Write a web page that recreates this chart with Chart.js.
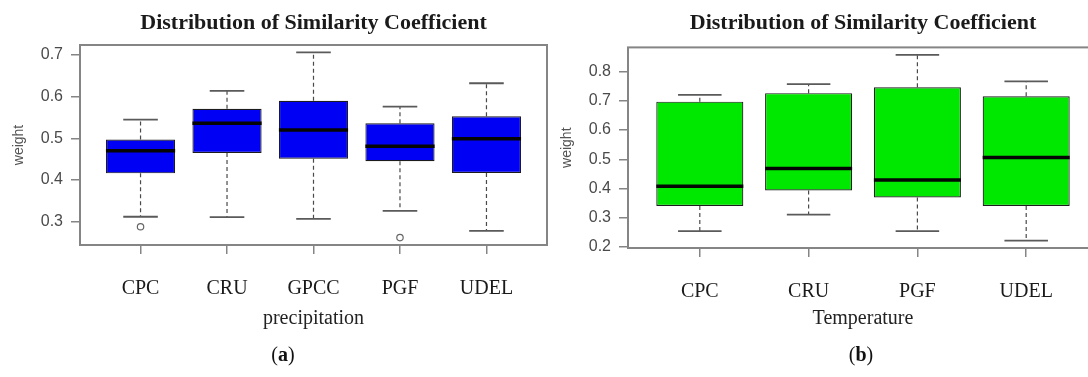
<!DOCTYPE html>
<html>
<head>
<meta charset="utf-8">
<title>Distribution of Similarity Coefficient</title>
<script src="https://cdn.jsdelivr.net/npm/chart.js@4.4.1/dist/chart.umd.min.js"></script>
<style>
  html, body { margin: 0; padding: 0; background: #fff; overflow: hidden; }
  body { width: 1088px; height: 377px; position: relative; }
  .panel { position: absolute; top: 0; width: 560px; height: 377px; }
  .panel canvas { display: block; }
  .caption {
    position: absolute;
    top: 343px;
    font: 20px 'Liberation Serif', serif;
    color: #111;
    transform: translateX(-50%);
  }
</style>
</head>
<body>
<div class="panel" style="left:0"><canvas id="precip" width="560" height="377"></canvas></div>
<div class="panel" style="left:548px"><canvas id="temp" width="560" height="377"></canvas></div>
<div class="caption" style="left:283px">(<b>a</b>)</div>
<div class="caption" style="left:861px">(<b>b</b>)</div>
<script>
// precipitation products
const precipSources = ['CPC', 'CRU', 'GPCC', 'PGF', 'UDEL'];
const precipLow = [0.312, 0.311, 0.307, 0.326, 0.278];
const precipQ1 = [0.416, 0.465, 0.451, 0.445, 0.417];
const precipMedian = [0.470, 0.536, 0.520, 0.481, 0.499];
const precipQ3 = [0.497, 0.571, 0.590, 0.536, 0.553];
const precipHigh = [0.545, 0.614, 0.706, 0.576, 0.632];
const precipOutliers = [[0.288], [], [], [0.262], []];
const precipTicks = [0.3, 0.4, 0.5, 0.6, 0.7];

// temperature products
const tempSources = ['CPC', 'CRU', 'PGF', 'UDEL'];
const tempLow = [0.254, 0.311, 0.254, 0.222];
const tempQ1 = [0.340, 0.393, 0.369, 0.340];
const tempMedian = [0.408, 0.468, 0.429, 0.506];
const tempQ3 = [0.697, 0.726, 0.746, 0.715];
const tempHigh = [0.720, 0.757, 0.857, 0.766];
const tempOutliers = [[], [], [], []];
const tempTicks = [0.2, 0.3, 0.4, 0.5, 0.6, 0.7, 0.8];

const FRAME_COLOR = '#858585';

// whiskers, staples, medians and the plot frame, drawn like base R boxplots
function boxWhiskers(stats) {
  return {
    id: 'boxWhiskers',
    beforeDatasetsDraw(chart) {
      const { ctx } = chart;
      const y = chart.scales.y;
      const bars = chart.getDatasetMeta(0).data;
      ctx.save();
      bars.forEach((bar, i) => {
        const staple = bar.width / 4;
        const yLow = y.getPixelForValue(stats.low[i]);
        const yHigh = y.getPixelForValue(stats.high[i]);
        const yQ1 = y.getPixelForValue(stats.q1[i]);
        const yQ3 = y.getPixelForValue(stats.q3[i]);

        ctx.strokeStyle = '#4a4a4a';
        ctx.lineWidth = 1.2;
        ctx.setLineDash([4, 3]);
        ctx.beginPath();
        ctx.moveTo(bar.x, yQ3);
        ctx.lineTo(bar.x, yHigh);
        ctx.moveTo(bar.x, yQ1);
        ctx.lineTo(bar.x, yLow);
        ctx.stroke();

        ctx.setLineDash([]);
        ctx.strokeStyle = '#5a5a5a';
        ctx.lineWidth = 1.8;
        ctx.beginPath();
        ctx.moveTo(bar.x - staple, yHigh);
        ctx.lineTo(bar.x + staple, yHigh);
        ctx.moveTo(bar.x - staple, yLow);
        ctx.lineTo(bar.x + staple, yLow);
        ctx.stroke();
      });
      ctx.restore();
    },
    afterDatasetsDraw(chart) {
      const { ctx } = chart;
      const y = chart.scales.y;
      const bars = chart.getDatasetMeta(0).data;
      ctx.save();
      ctx.strokeStyle = '#050505';
      ctx.lineWidth = 3.5;
      bars.forEach((bar, i) => {
        const yMed = y.getPixelForValue(stats.median[i]);
        ctx.beginPath();
        ctx.moveTo(bar.x - bar.width / 2, yMed);
        ctx.lineTo(bar.x + bar.width / 2, yMed);
        ctx.stroke();
      });
      ctx.restore();
    },
    afterDraw(chart) {
      const { ctx, chartArea: a } = chart;
      ctx.save();
      ctx.strokeStyle = FRAME_COLOR;
      ctx.lineWidth = 2;
      ctx.strokeRect(a.left, a.top, a.right - a.left, a.bottom - a.top);
      ctx.restore();
    },
  };
}

function makeBoxChart(canvasId, cfg) {
  const n = cfg.sources.length;
  const values = [...cfg.low, ...cfg.high, ...cfg.outliers.flat()];
  const lo = Math.min(...values);
  const hi = Math.max(...values);
  const pad = (hi - lo) * 0.04;

  const boxes = cfg.sources.map((_, i) => ({ x: i + 1, y: [cfg.q1[i], cfg.q3[i]] }));
  const outlierPoints = cfg.outliers.flatMap((list, i) => list.map((v) => ({ x: i + 1, y: v })));

  return new Chart(document.getElementById(canvasId), {
    type: 'bar',
    data: {
      datasets: [
        {
          data: boxes,
          backgroundColor: cfg.fill,
          borderColor: '#1c1c1c',
          borderWidth: 1.2,
          borderSkipped: false,
          barPercentage: 0.8,
          categoryPercentage: 1,
        },
        {
          type: 'scatter',
          data: outlierPoints,
          pointStyle: 'circle',
          pointRadius: 3.2,
          backgroundColor: 'rgba(0,0,0,0)',
          borderColor: '#666',
          borderWidth: 1.2,
        },
      ],
    },
    options: {
      responsive: false,
      animation: false,
      events: [],
      layout: { padding: cfg.padding },
      plugins: {
        legend: { display: false },
        tooltip: { enabled: false },
        title: {
          display: true,
          text: 'Distribution of Similarity Coefficient',
          fullSize: false,
          color: '#1a1a1a',
          font: { family: 'Liberation Serif', size: 22, weight: 'bold', lineHeight: 1.2 },
          padding: cfg.titlePadding,
        },
      },
      scales: {
        x: {
          type: 'linear',
          offset: false,
          min: 0.5 - 0.04 * n,
          max: n + 0.5 + 0.04 * n,
          afterBuildTicks: (scale) => {
            scale.ticks = cfg.sources.map((_, i) => ({ value: i + 1 }));
          },
          afterFit: (scale) => {
            scale.height = 90;
          },
          ticks: {
            autoSkip: false,
            maxRotation: 0,
            padding: 23,
            color: '#1a1a1a',
            font: { family: 'Liberation Serif', size: 20 },
            callback: (value, index) => cfg.sources[index],
          },
          grid: { offset: false, drawOnChartArea: false, tickLength: 9, color: FRAME_COLOR, lineWidth: 1.5 },
          border: { display: false },
          title: {
            display: true,
            text: cfg.xTitle,
            color: '#222',
            font: { family: 'Liberation Serif', size: 20, lineHeight: 1.2 },
            padding: { top: 0, bottom: cfg.xTitleGap },
          },
        },
        y: {
          min: lo - pad,
          max: hi + pad,
          afterBuildTicks: (scale) => {
            scale.ticks = cfg.ticks.map((v) => ({ value: v }));
          },
          afterFit: (scale) => {
            scale.width = 80;
          },
          ticks: {
            padding: 8,
            color: '#4a4a4a',
            font: { family: 'Liberation Sans', size: 16 },
            callback: (value) => value.toFixed(1),
          },
          grid: { drawOnChartArea: false, tickLength: 9, color: FRAME_COLOR, lineWidth: 1.5 },
          border: { display: false },
          title: {
            display: true,
            text: 'weight',
            color: '#555',
            font: { family: 'Liberation Sans', size: 14, lineHeight: 1.2 },
            padding: { top: 11, bottom: 0 },
          },
        },
      },
    },
    plugins: [boxWhiskers(cfg)],
  });
}

makeBoxChart('precip', {
  sources: precipSources,
  low: precipLow,
  q1: precipQ1,
  median: precipMedian,
  q3: precipQ3,
  high: precipHigh,
  outliers: precipOutliers,
  ticks: precipTicks,
  fill: '#0000f5',
  xTitle: 'precipitation',
  xTitleGap: 4,
  padding: { left: 0, right: 13, top: 0, bottom: 42 },
  titlePadding: { top: 10, bottom: 8.6 },
});

makeBoxChart('temp', {
  sources: tempSources,
  low: tempLow,
  q1: tempQ1,
  median: tempMedian,
  q3: tempQ3,
  high: tempHigh,
  outliers: tempOutliers,
  ticks: tempTicks,
  fill: '#00e800',
  xTitle: 'Temperature',
  xTitleGap: 7,
  padding: { left: 0, right: 10, top: 0, bottom: 39 },
  titlePadding: { top: 10, bottom: 11 },
});
</script>
</body>
</html>
